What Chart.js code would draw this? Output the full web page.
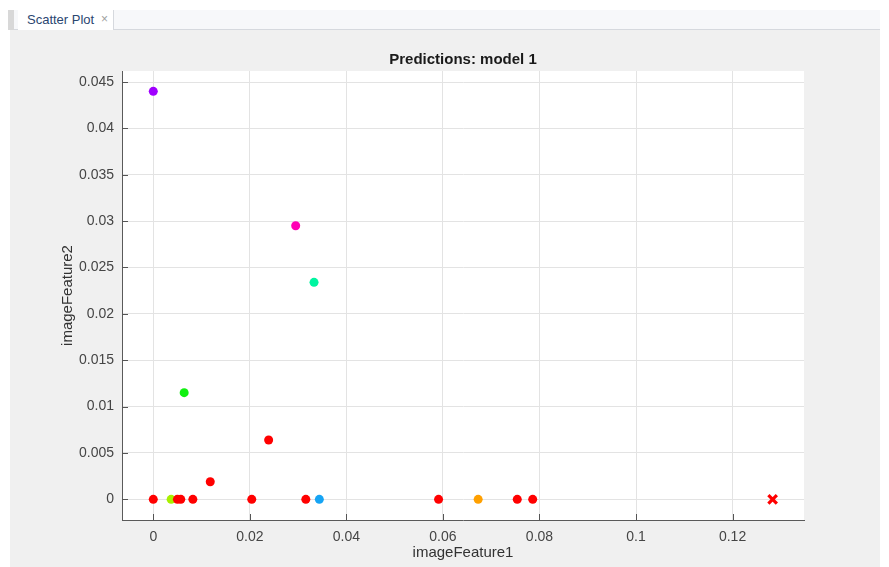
<!DOCTYPE html>
<html>
<head>
<meta charset="utf-8">
<script src="https://cdn.jsdelivr.net/npm/chart.js@4.4.1/dist/chart.umd.min.js"></script>
<style>
    html, body { margin: 0; padding: 0; background: #ffffff; }
    body { width: 889px; height: 567px; position: relative; overflow: hidden; font-family: "Liberation Sans", Arial, sans-serif; }
    #panel { position: absolute; left: 10px; top: 10px; width: 870px; height: 557px; background: #f0f0f0; }
    #tab-bar { position: absolute; left: 10px; top: 10px; width: 870px; height: 19px; background: #f7f8fa; border-bottom: 1px solid #d6d9de; }
    #grip { position: absolute; left: 8px; top: 10px; width: 6px; height: 20px; background: #d8d8d8; }
    #tab { position: absolute; left: 18px; top: 10px; width: 95px; height: 20px; background: #ffffff; border-right: 1px solid #d6d9de; }
    #tab .label { position: absolute; left: 9px; top: 2px; font-size: 13px; color: #2a4670; }
    #tab .close { position: absolute; left: 83px; top: 2px; font-size: 12px; color: #a0a0a0; }
    #chart-wrap { position: absolute; left: 0; top: 0; width: 889px; height: 567px; }
    #chart-title { position: absolute; left: 122px; width: 682px; top: 50px; text-align: center;
                   font-size: 15px; font-weight: bold; color: #1a1a1a; line-height: 18px; }
</style>
</head>
<body>
<div id="panel"></div>
<div id="tab-bar"></div>
<div id="grip"></div>
<div id="tab"><span class="label">Scatter Plot</span><span class="close">×</span></div>
<div id="chart-wrap"><canvas id="chart" width="889" height="567"></canvas></div>
<div id="chart-title"></div>
<script>
// values
const xValues = [0, 0.0295, 0.0333, 0.0064, 0.0239, 0.0118, 0.0037, 0, 0.0050, 0.0057, 0.0082, 0.0204, 0.0316, 0.0344, 0.0591, 0.0673, 0.0754, 0.0786, 0.1283]
const yValues = [0.0440, 0.0295, 0.0234, 0.0115, 0.0064, 0.0019, 0, 0, 0, 0, 0, 0, 0, 0, 0, 0, 0, 0, 0]
const pointColors = ['#a000ff', '#ff00b4', '#00f5a0', '#10f010', '#ff0000', '#ff0000', '#a8f000', '#ff0000', '#ff0000', '#ff0000',
                     '#ff0000', '#ff0000', '#ff0000', '#16a4f4', '#ff0000', '#ffa000', '#ff0000', '#ff0000', '#ff0000']
const pointShapes = ['circle', 'circle', 'circle', 'circle', 'circle', 'circle', 'circle', 'circle', 'circle', 'circle',
                     'circle', 'circle', 'circle', 'circle', 'circle', 'circle', 'circle', 'circle', 'crossRot']

const xTitle = 'imageFeature1'
const yTitle = 'imageFeature2'
const chartTitle = 'Predictions: model 1'

const xRange = { min: -0.00648, max: 0.1348, step: 0.02 }
const yRange = { min: -0.00223, max: 0.04619, step: 0.005 }

document.getElementById('chart-title').textContent = chartTitle;

const points = xValues.map((x, i) => ({ x: x, y: yValues[i] }))

const tickFont = { family: 'Liberation Sans', size: 14 }
const fmt = v => String(Number(v.toFixed(4)))

// white plot background + short inward tick marks like the original
const plotDecor = {
    id: 'plotDecor',
    beforeDraw(chart) {
        const a = chart.chartArea;
        const ctx = chart.ctx;
        ctx.save();
        ctx.fillStyle = '#ffffff';
        ctx.fillRect(a.left, a.top, a.right - a.left, a.bottom - a.top);
        ctx.restore();
    },
    afterDraw(chart) {
        const a = chart.chartArea;
        const ctx = chart.ctx;
        ctx.save();
        ctx.strokeStyle = '#555555';
        ctx.lineWidth = 1;
        chart.scales.x.ticks.forEach(t => {
            const px = Math.round(chart.scales.x.getPixelForValue(t.value)) + 0.5;
            ctx.beginPath();
            ctx.moveTo(px, a.bottom);
            ctx.lineTo(px, a.bottom - 6);
            ctx.stroke();
        });
        chart.scales.y.ticks.forEach(t => {
            const py = Math.round(chart.scales.y.getPixelForValue(t.value)) + 0.5;
            ctx.beginPath();
            ctx.moveTo(a.left, py);
            ctx.lineTo(a.left + 6, py);
            ctx.stroke();
        });
        ctx.restore();
    }
}

new Chart(document.getElementById('chart'), {
    type: 'scatter',
    data: {
        datasets: [{
            data: points,
            pointBackgroundColor: pointColors,
            pointBorderColor: pointColors,
            pointStyle: pointShapes,
            pointRadius: pointShapes.map(s => s === 'crossRot' ? 6 : 4.5),
            pointBorderWidth: pointShapes.map(s => s === 'crossRot' ? 3.2 : 0),
            pointHoverRadius: 4.5,
        }]
    },
    options: {
        responsive: false,
        animation: false,
        layout: { padding: { left: 0, right: 85, top: 71, bottom: 0 } },
        plugins: {
            legend: { display: false },
            tooltip: { enabled: false },
            title: { display: false }
        },
        scales: {
            x: {
                type: 'linear',
                min: xRange.min,
                max: xRange.max,
                afterFit: scale => { scale.height = 47; },
                ticks: {
                    stepSize: xRange.step,
                    includeBounds: false,
                    autoSkip: false,
                    maxRotation: 0,
                    padding: 9,
                    color: '#454545',
                    font: tickFont,
                    callback: fmt,
                },
                grid: { color: '#e3e3e3', drawTicks: false },
                border: { display: true, color: '#5a5a5a', width: 1 },
                title: {
                    display: true,
                    text: xTitle,
                    color: '#333333',
                    font: { family: 'Liberation Sans', size: 15, lineHeight: 1.2 },
                    padding: { top: 0, bottom: 5 },
                }
            },
            y: {
                type: 'linear',
                min: yRange.min,
                max: yRange.max,
                afterFit: scale => { scale.width = 122; },
                ticks: {
                    stepSize: yRange.step,
                    includeBounds: false,
                    autoSkip: false,
                    padding: 8,
                    color: '#454545',
                    font: tickFont,
                    callback: fmt,
                },
                grid: { color: '#e3e3e3', drawTicks: false },
                border: { display: true, color: '#5a5a5a', width: 1 },
                title: {
                    display: true,
                    text: yTitle,
                    color: '#333333',
                    font: { family: 'Liberation Sans', size: 15, lineHeight: 1.2 },
                    padding: { top: 59, bottom: 0 },
                }
            }
        }
    },
    plugins: [plotDecor]
});
</script>
</body>
</html>
